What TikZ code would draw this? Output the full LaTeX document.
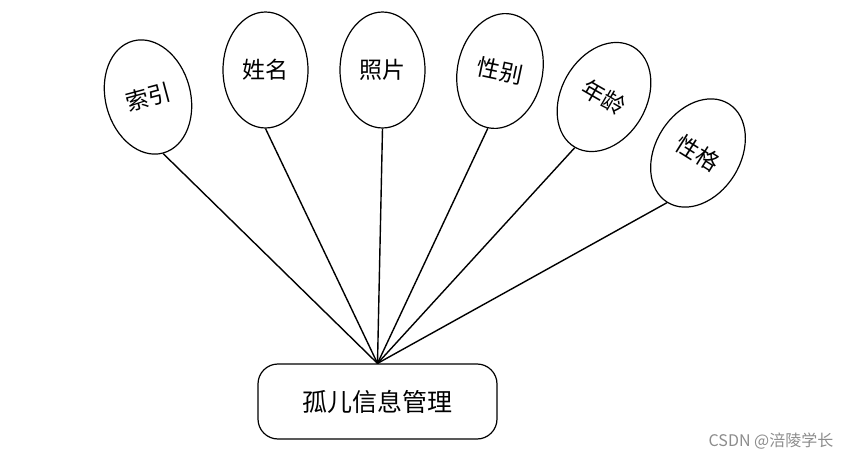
\documentclass[tikz,border=0pt]{standalone}
\usepackage{fontspec}
\setmainfont{Noto Sans CJK SC}
\usetikzlibrary{shapes.geometric}

\begin{document}
\begin{tikzpicture}[
			x=1pt, y=-1pt,
			font=\fontsize{23}{26}\selectfont,
			attr/.style={
				draw,
				ellipse,
				line width=1.2pt,
				inner sep=0pt,
				minimum width=85pt,
				minimum height=116pt
			},
			box/.style={
				draw,
				rounded corners=20pt,
				line width=1.2pt,
				align=center,
				minimum width=239pt,
				minimum height=75pt,
				font=\fontsize{25}{28}\selectfont
			},
			link/.style={line width=1.4pt}
			]
			
			\useasboundingbox (0,0) rectangle (855,460);
			
			\node[attr, rotate=15] (a1) at (148,97) {索引};
			\node[attr] (a2) at (265.5,70) {姓名};
			\node[attr] (a3) at (382.5,70) {照片};
			\node[attr, rotate=-12] (a4) at (500,71) {性别};
			\node[attr, rotate=-30] (a5) at (604,97) {年龄};
			\node[attr, rotate=-32] (a6) at (698,153) {性格};
			
			\node[box] (m) at (377.5,401.5) {孤儿信息管理};
			
			\draw[link] (a1.south) -- (m.north);
			\draw[link] (a2.south) -- (m.north);
			\draw[link] (a3.south) -- (m.north);
			\draw[link] (a4.south) -- (m.north);
			\draw[link] (a5.south) -- (m.north);
			\draw[link] (a6.south) -- (m.north);
			
			\node[text=black!45, font=\fontsize{16}{18}\selectfont] (wm) at (771,441) {CSDN @涪陵学长};
			
		\end{tikzpicture}
\end{document}
